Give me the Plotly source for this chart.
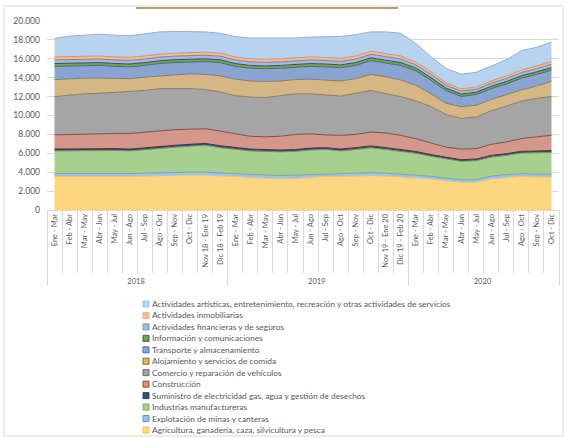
import plotly.graph_objects as go
import numpy as np

# ---------------- data ----------------
years = ["2018"] * 12 + ["2019"] * 12 + ["2020"] * 10
periods = [
    "Ene - Mar", "Feb - Abr", "Mar - May", "Abr - Jun", "May - Jul", "Jun - Ago",
    "Jul - Sep", "Ago - Oct", "Sep - Nov", "Oct - Dic", "Nov 18 - Ene 19", "Dic 18 - Feb 19",
    "Ene - Mar", "Feb - Abr", "Mar - May", "Abr - Jun", "May - Jul", "Jun - Ago",
    "Jul - Sep", "Ago - Oct", "Sep - Nov", "Oct - Dic", "Nov 19 - Ene 20", "Dic 19 - Feb 20",
    "Ene - Mar", "Feb - Abr", "Mar - May", "Abr - Jun", "May - Jul", "Jun - Ago",
    "Jul - Sep", "Ago - Oct", "Sep - Nov", "Oct - Dic",
]

agricultura = [3550, 3550, 3500, 3500, 3550, 3550, 3600, 3650, 3650, 3700, 3700, 3650,
               3550, 3450, 3350, 3300, 3350, 3450, 3550, 3550, 3600, 3650, 3600, 3500,
               3400, 3300, 3100, 2950, 2950, 3300, 3450, 3550, 3500, 3500]
minas = [300, 300, 300, 300, 300, 300, 300, 300, 300, 300, 300, 300,
         300, 320, 350, 350, 330, 300, 300, 300, 300, 300, 300, 300,
         280, 270, 260, 250, 270, 280, 290, 300, 300, 300]
industria = [2400, 2430, 2500, 2530, 2450, 2400, 2500, 2600, 2700, 2750, 2850, 2650,
             2550, 2480, 2500, 2500, 2520, 2600, 2550, 2400, 2500, 2630, 2500, 2430,
             2320, 2110, 2020, 1950, 2000, 2020, 2040, 2170, 2250, 2300]
suministro = [200, 200, 200, 200, 200, 200, 200, 200, 200, 200, 200, 200,
              200, 200, 200, 200, 200, 200, 200, 200, 200, 200, 200, 200,
              190, 180, 180, 170, 170, 180, 180, 190, 190, 190]
construccion = [1500, 1520, 1550, 1570, 1600, 1650, 1650, 1650, 1650, 1600, 1550, 1550,
                1450, 1350, 1350, 1450, 1600, 1500, 1350, 1450, 1400, 1470, 1550, 1470,
                1350, 1240, 1090, 1120, 1100, 1170, 1240, 1350, 1470, 1620]
comercio = [4050, 4150, 4250, 4250, 4350, 4400, 4400, 4450, 4350, 4300, 4150, 4150,
            4050, 4150, 4150, 4300, 4300, 4250, 4250, 4150, 4350, 4400, 4150, 4100,
            4000, 3850, 3450, 3250, 3350, 3550, 3800, 3950, 4100, 4100]
alojamiento = [1800, 1750, 1650, 1600, 1450, 1400, 1400, 1350, 1450, 1550, 1600, 1700,
               1750, 1700, 1700, 1550, 1500, 1550, 1550, 1600, 1550, 1700, 1800, 1750,
               1650, 1350, 1200, 1250, 1250, 1200, 1200, 1200, 1300, 1600]
transporte = [1400, 1350, 1350, 1350, 1300, 1250, 1250, 1300, 1300, 1250, 1350, 1400,
              1350, 1350, 1350, 1350, 1300, 1350, 1400, 1400, 1400, 1450, 1450, 1550,
              1530, 1430, 1330, 1080, 1130, 1130, 1130, 1230, 1230, 1180]
informacion = [300, 300, 300, 300, 300, 300, 300, 300, 300, 300, 300, 300,
               300, 300, 300, 300, 300, 300, 300, 300, 300, 300, 300, 300,
               290, 280, 260, 250, 250, 260, 260, 270, 270, 270]
financieras = [380, 380, 380, 380, 380, 380, 380, 380, 380, 380, 380, 380,
               380, 380, 380, 380, 380, 380, 380, 380, 380, 380, 380, 380,
               350, 340, 320, 310, 310, 320, 330, 340, 350, 350]
inmobiliarias = [320, 320, 320, 320, 320, 320, 320, 320, 320, 320, 320, 320,
                 320, 320, 320, 320, 320, 320, 320, 320, 320, 320, 320, 320,
                 300, 270, 250, 240, 240, 250, 260, 270, 280, 290]
artisticas = [1950, 2150, 2200, 2300, 2300, 2300, 2350, 2350, 2300, 2250, 2150, 2100,
              2150, 2200, 2250, 2200, 2100, 2100, 2220, 2320, 2250, 2050, 2300, 2400,
              1950, 1590, 1530, 1550, 1550, 1530, 1710, 2040, 1970, 2060]

series_names = [
    "Agricultura, ganadería, caza, silvicultura y pesca",
    "Explotación de minas y canteras",
    "Industrias manufactureras",
    "Suministro de electricidad gas, agua y gestión de desechos",
    "Construcción",
    "Comercio y reparación de vehículos",
    "Alojamiento y servicios de comida",
    "Transporte y almacenamiento",
    "Información y comunicaciones",
    "Actividades financieras y de seguros",
    "Actividades inmobiliarias",
    "Actividades artísticas, entretenimiento, recreación y otras actividades de servicios",
]
series_values = [agricultura, minas, industria, suministro, construccion, comercio,
                 alojamiento, transporte, informacion, financieras, inmobiliarias, artisticas]

y_ticks = list(range(0, 20001, 2000))

# ---------------- styles ----------------
fill_colors = ["#FCD680", "#9DC3E6", "#A8D08D", "#3F4E66", "#D4978B", "#A5A5A5",
               "#D6B684", "#8AA4D2", "#779F62", "#A3BAE0", "#F4BC98", "#B8D3F0"]
line_colors = ["#E9C063", "#6FA3D6", "#6E9A52", "#2C3A50", "#8E4B3C", "#7F7F7F",
               "#9C7B3C", "#4A6496", "#355A25", "#6A86BC", "#E09060", "#8FB2DC"]
legend_box = ["#F2C14E", "#5B9BD5", "#70AD47", "#264478", "#9E480E", "#636363",
              "#997300", "#4472C4", "#43682B", "#5B9BD5", "#F4B183", "#9DC3E6"]

W, H = 567, 438
L, R, T, B = 47, 8, 21, 228
PW, PH = W - L - R, H - T - B


def px(x):
    return (x - L) / PW


def py(y):
    return (H - B - y) / PH


fig = go.Figure()
for name, vals, fc, lc in zip(series_names, series_values, fill_colors, line_colors):
    fig.add_trace(go.Scatter(
        x=[years, periods], y=vals, name=name, stackgroup="one", mode="lines",
        line=dict(color=lc, width=1), fillcolor=fc,
    ))

# helper (invisible) trace to draw category separators on an overlaid axis
n = len(periods)
fig.add_trace(go.Scatter(x=[0], y=[0], xaxis="x2", mode="markers",
                         marker=dict(opacity=0), hoverinfo="skip", showlegend=False))

grid = "#D9D9D9"
txt = "#595959"
fig.update_layout(
    width=W, height=H,
    margin=dict(l=L, r=R, t=T, b=B, autoexpand=False),
    paper_bgcolor="white", plot_bgcolor="white",
    separators=",.",
    showlegend=False,
    font=dict(family="Lato, Liberation Sans, sans-serif", color=txt),
    xaxis=dict(
        type="multicategory", range=[-0.5, n - 0.5],
        tickangle=-90, tickfont=dict(size=7.5, color=txt),
        showdividers=True, dividercolor=grid, dividerwidth=1,
        showline=True, linecolor=grid, linewidth=1,
        ticks="", showgrid=False, zeroline=False,
    ),
    xaxis2=dict(
        overlaying="x", anchor="y", side="bottom", range=[-0.5, n - 0.5],
        tickmode="array", tickvals=list(np.arange(-0.5, n, 1.0)),
        ticks="outside", ticklen=62, tickcolor=grid, tickwidth=1,
        showticklabels=False, showgrid=False, zeroline=False, showline=False,
    ),
    yaxis=dict(
        range=[0, 20000], tickmode="array", tickvals=y_ticks, tickformat=",",
        gridcolor=grid, gridwidth=1, showline=False, zeroline=False,
        tickfont=dict(size=8.5, color=txt), ticks="", ticklabelstandoff=6,
    ),
)

# legend drawn as text annotations + square markers (single compact column)
shapes = []
annotations = []
order = list(range(len(series_names)))[::-1]
for k, idx in enumerate(order):
    yc = 304 + k * 11.45
    shapes.append(dict(type="rect", xref="paper", yref="paper",
                       x0=px(143), x1=px(149), y0=py(yc + 3), y1=py(yc - 3),
                       fillcolor=fill_colors[idx], line=dict(color=legend_box[idx], width=1)))
    annotations.append(dict(xref="paper", yref="paper", x=px(150), y=py(yc),
                            xanchor="left", yanchor="middle", showarrow=False,
                            text=series_names[idx], font=dict(size=8.4, color=txt)))

# outer chart border and top accent line
shapes.append(dict(type="rect", xref="paper", yref="paper",
                   x0=px(4), x1=px(563), y0=py(436), y1=py(6),
                   line=dict(color=grid, width=1), fillcolor="rgba(0,0,0,0)", layer="below"))
shapes.append(dict(type="line", xref="paper", yref="paper",
                   x0=px(136), x1=px(398), y0=py(8), y1=py(8),
                   line=dict(color="#8F7F4E", width=1.5)))

fig.update_layout(shapes=shapes, annotations=annotations)
fig.write_html("out.html", config={"displayModeBar": False},
               post_script="document.body.style.margin='0px';")
